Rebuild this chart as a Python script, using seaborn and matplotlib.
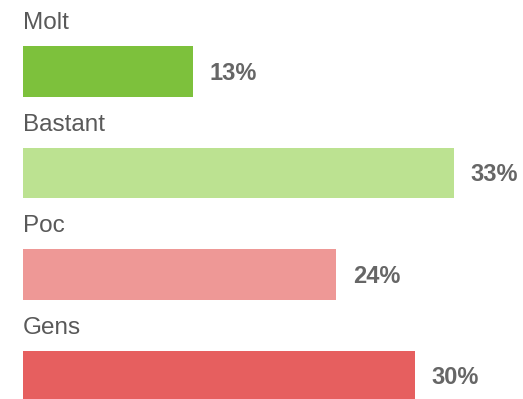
import matplotlib
matplotlib.use("Agg")
import matplotlib.pyplot as plt
import seaborn as sns
import pandas as pd

# data
categories = ["Molt", "Bastant", "Poc", "Gens"]
values = [13, 33, 24, 30]
colors = ["#7DC13C", "#BCE291", "#EE9896", "#E65F5F"]

sns.set_style("white")
plt.rcParams['font.family'] = ['Liberation Sans', 'DejaVu Sans']

df = pd.DataFrame({"cat": categories, "val": values})

fig = plt.figure(figsize=(5.23, 3.99), dpi=100)
ax = fig.add_axes([0, 0, 1, 1])
sns.barplot(data=df, x="val", y="cat", hue="cat", palette=colors,
            orient="h", width=0.5, legend=False, saturation=1,
            linewidth=0, ax=ax)

ax.set_xlim(-1.76, 38.28)
ax.set_ylim(3.227, -0.704)

for i, (c, v) in enumerate(zip(categories, values)):
    ax.annotate(c, xy=(0, i), xytext=(0, 42.2 * 0.72), textcoords="offset points",
                ha="left", va="baseline", fontsize=17.5, color="#595959")
    ax.annotate(f"{v}%", xy=(v, i), xytext=(16.5 * 0.72, -8.5 * 0.72),
                textcoords="offset points", ha="left", va="baseline",
                fontsize=17, fontweight="bold", color="#666666")

ax.set_axis_off()
fig.savefig("out.png", dpi=100)
